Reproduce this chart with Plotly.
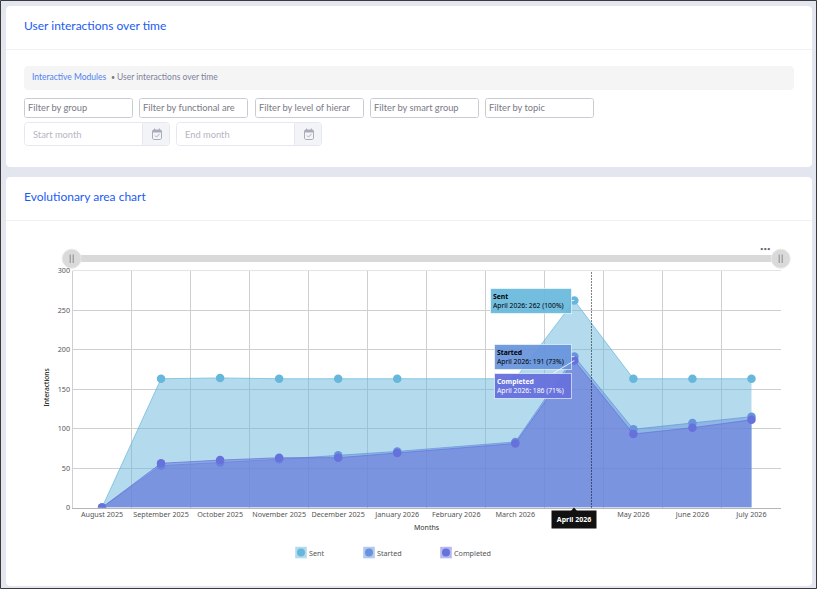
import plotly.graph_objects as go

months = ["August 2025", "September 2025", "October 2025", "November 2025", "December 2025",
          "January 2026", "February 2026", "March 2026", "April 2026", "May 2026", "June 2026", "July 2026"]
sent = [0, 163, 164, 163, 163, 163, None, 163, 262, 163, 163, 163]
started = [0, 53, 57, 61, 66, 71, None, 83, 191, 99, 107, 115]
completed = [0, 56, 60, 63, 63, 69, None, 81, 186, 93, 101, 111]
series_names = ["Sent", "Started", "Completed"]
y_ticks = [0, 50, 100, 150, 200, 250, 300]
filters = ["Filter by group", "Filter by functional are", "Filter by level of hierar",
           "Filter by smart group", "Filter by topic"]

W, H = 817, 589
RGB = ["103,183,220", "103,148,220", "103,113,220"]
UI = "Lato"
CH = "Noto Sans"
X0, X1, Y0, Y1 = 72.5, 781, 270.5, 507.5


def px(x):
    return x / W


def py(y):
    return 1 - y / H


def rrect(x0, y0, x1, y1, r=3, **kw):
    k = r * 0.45
    p = (f"M{px(x0+r)},{py(y0)} L{px(x1-r)},{py(y0)} C{px(x1-k)},{py(y0)} {px(x1)},{py(y0+k)} {px(x1)},{py(y0+r)} "
         f"L{px(x1)},{py(y1-r)} C{px(x1)},{py(y1-k)} {px(x1-k)},{py(y1)} {px(x1-r)},{py(y1)} "
         f"L{px(x0+r)},{py(y1)} C{px(x0+k)},{py(y1)} {px(x0)},{py(y1-k)} {px(x0)},{py(y1-r)} "
         f"L{px(x0)},{py(y0+r)} C{px(x0)},{py(y0+k)} {px(x0+k)},{py(y0)} {px(x0+r)},{py(y0)} Z")
    return dict(type="path", path=p, xref="paper", yref="paper", layer="below", **kw)


def rect(x0, y0, x1, y1, **kw):
    return dict(type="rect", xref="paper", yref="paper", x0=px(x0), x1=px(x1), y0=py(y0), y1=py(y1),
                layer=kw.pop("layer", "below"), **kw)


def circ(cx, cy, r, **kw):
    return dict(type="circle", xref="paper", yref="paper", x0=px(cx - r), x1=px(cx + r), y0=py(cy + r), y1=py(cy - r),
                layer=kw.pop("layer", "below"), **kw)


def seg(x0, y0, x1, y1, color, width=1, layer="below"):
    return dict(type="line", xref="paper", yref="paper", x0=px(x0), x1=px(x1), y0=py(y0), y1=py(y1),
                line=dict(color=color, width=width), layer=layer)


def label(x, y, text, size, color, family=UI, anchor="left", **kw):
    return dict(text=text, x=px(x), y=py(y), xref="paper", yref="paper", showarrow=False, xanchor=anchor,
                yanchor="middle", font=dict(family=family, size=size, color=color), **kw)


NL = dict(width=0)
shapes = [
    rect(0.5, 0.5, 816.5, 588.5, fillcolor="#e3e6ee", line=dict(color="#3a3a3a", width=1)),
    rrect(6, 6, 812, 167, r=4, fillcolor="white", line=NL),
    rrect(6, 177, 812, 586, r=4, fillcolor="white", line=NL),
    seg(6, 49.5, 812, 49.5, "#eff1f5"),
    seg(6, 220.5, 812, 220.5, "#eff1f5"),
    rrect(24, 66, 794, 90, r=4, fillcolor="#f5f5f6", line=NL),
]
annos = [
    label(22, 26, "User interactions over time", 12, "#1b5cf5"),
    label(22, 197, "Evolutionary area chart", 12, "#1b5cf5"),
    label(30, 77, "Interactive Modules", 8.5, "#4f82ee"),
    label(108.5, 77, "•", 7, "#777"),
    label(115, 77, "User interactions over time", 8.5, "#7e8299"),
]

for (x0, x1), t in zip([(24, 133), (139, 248), (255, 364), (370, 479), (485, 594)], filters):
    shapes.append(rrect(x0 + .5, 98.5, x1 - .5, 117.5, r=2, fillcolor="white", line=dict(color="#c8cbd3", width=1)))
    annos.append(label(x0 + 1.5, 108, t, 9.3, "#7a7a86"))

for x0, t in [(24, "Start month"), (176, "End month")]:
    shapes.append(rrect(x0 + .5, 122.5, x0 + 145.5, 145.5, r=3, fillcolor="white", line=dict(color="#e6e8ef", width=1)))
    shapes.append(rrect(x0 + 119, 123, x0 + 145, 145, r=2, fillcolor="#f2f4f8", line=NL))
    shapes.append(seg(x0 + 118.5, 123, x0 + 118.5, 145, "#e6e8ef"))
    annos.append(label(x0 + 7, 134, t, 9.3, "#b5b5c3"))
    c = x0 + 133
    shapes.append(rrect(c - 4.5, 130, c + 4.5, 139.5, r=1.5, fillcolor="rgba(0,0,0,0)", line=dict(color="#a9adbb", width=1)))
    shapes.append(rect(c - 4.5, 130, c + 4.5, 132.5, fillcolor="#a9adbb", line=NL))
    shapes.append(seg(c - 2.5, 128.5, c - 2.5, 131, "#a9adbb"))
    shapes.append(seg(c + 2.5, 128.5, c + 2.5, 131, "#a9adbb"))
    shapes.append(seg(c - 2, 135.5, c - .5, 137, "#a9adbb"))
    shapes.append(seg(c - .5, 137, c + 2.5, 134, "#a9adbb"))

# range slider look
shapes.append(rect(72, 255, 781, 262, fillcolor="#d9d9d9", line=NL))
for c in (71.7, 780.7):
    shapes.append(circ(c, 258.7, 9.5, fillcolor="#dadada", line=dict(color="#e9e9e9", width=1)))
    shapes.append(seg(c - 1.5, 254.5, c - 1.5, 263, "#8a8a8a"))
    shapes.append(seg(c + 1.5, 254.5, c + 1.5, 263, "#8a8a8a"))
annos.append(label(765, 248, "•••", 6, "#666", anchor="center"))

# lighter top border of the plot
shapes.append(seg(X0, Y0, X1, Y0, "#e4e4e4", layer="above"))

# cursor line
shapes.append(dict(type="line", xref="x", yref="paper", x0=8.29, x1=8.29, y0=py(Y1), y1=py(Y0),
                   line=dict(color="#000", width=1, dash="1px,2px"), layer="above"))

# pointer of the category tooltip
shapes.append(dict(type="path", xref="paper", yref="paper", layer="above", fillcolor="#111", line=NL,
                   path=f"M{px(570.5)},{py(511.5)} L{px(574)},{py(507.5)} L{px(577.5)},{py(511.5)} Z"))

# legend
for cx, tx, name, rgb in zip((301, 369, 446), (306.5, 374.5, 451.6), series_names, RGB):
    shapes.append(rect(cx - 5.8, 546.8, cx + 5.8, 558.3, fillcolor=f"rgba({rgb},0.5)", line=NL))
    shapes.append(circ(cx, 552.5, 4, fillcolor=f"rgb({rgb})", line=NL))
    annos.append(label(tx, 552.5, name, 7.2, "#555", family=CH))

fig = go.Figure()
for name, vals, rgb in zip(series_names, [sent, started, completed], RGB):
    fig.add_trace(go.Scatter(x=months, y=vals, name=name, mode="lines+markers", connectgaps=True,
                             fill="tozeroy", fillcolor=f"rgba({rgb},0.5)",
                             line=dict(color=f"rgba({rgb},0.7)", width=1),
                             marker=dict(size=8.5, color=f"rgb({rgb})"), showlegend=False))

# tooltips, anchored on the April 2026 points
i = months.index("April 2026")
for vals, name, rgb, txt, ax, ay, w, op in [
    (sent, "Sent", RGB[0], "black", -43.5, 0, 76, .92),
    (started, "Started", RGB[1], "black", -41.5, 0, 72, .92),
    (completed, "Completed", RGB[2], "white", -41.5, 25, 72, .96),
]:
    pct = round(vals[i] / sent[i] * 100)
    annos.append(dict(x=months[i], y=vals[i], xref="x", yref="y", axref="pixel", ayref="pixel", ax=ax, ay=ay,
                      text=f"<b>{name}</b><br>{months[i]}: {vals[i]} ({pct}%)", align="left", valign="middle",
                      showarrow=True, arrowhead=0, arrowwidth=1, arrowcolor="rgba(255,255,255,.8)",
                      bgcolor=f"rgba({rgb},{op})", bordercolor="rgba(255,255,255,.6)", borderwidth=1, borderpad=2,
                      width=w, height=20, xanchor="center", yanchor="middle",
                      font=dict(family=CH, size=6.8, color=txt)))

annos.append(dict(x=months[i], y=py(519.5), xref="x", yref="paper", showarrow=False, text=f"<b>{months[i]}</b>",
                  bgcolor="#111", borderpad=3, font=dict(family=CH, size=7, color="white"),
                  width=38, height=11, xanchor="center", yanchor="middle"))
annos.append(label(427, 527, "Months", 7, "#333", family=CH, anchor="center"))
annos.append(label(45.5, 388, "Interactions", 6.8, "#000", family=CH, anchor="center", textangle=-90))

fig.update_layout(
    width=W, height=H, autosize=False, margin=dict(l=0, r=0, t=0, b=0, pad=0, autoexpand=False),
    paper_bgcolor="#e3e6ee", plot_bgcolor="rgba(0,0,0,0)",
    shapes=shapes, annotations=annos,
    font=dict(family=CH, size=7.2, color="#555"),
    xaxis=dict(domain=[px(X0), px(X1)], type="category", categoryorder="array", categoryarray=months,
               range=[-0.5, 11.5], tickson="boundaries", showgrid=True, gridcolor="#cfcfcf", gridwidth=1,
               showline=True, linecolor="#b5b5b5", zeroline=False, ticks="", tickangle=0, automargin=False,
               tickfont=dict(family=CH, size=7.2, color="#555")),
    yaxis=dict(domain=[py(Y1), py(Y0)], range=[0, 300], tickvals=y_ticks, showgrid=True, gridcolor="#cfcfcf",
               gridwidth=1, showline=True, linecolor="#cfcfcf", zeroline=False, ticks="", automargin=False,
               tickfont=dict(family=CH, size=7.2, color="#555")),
)

fig.write_html("out.html", config={"displayModeBar": False},
               post_script="document.body.style.margin='0';document.body.style.overflow='hidden';")
